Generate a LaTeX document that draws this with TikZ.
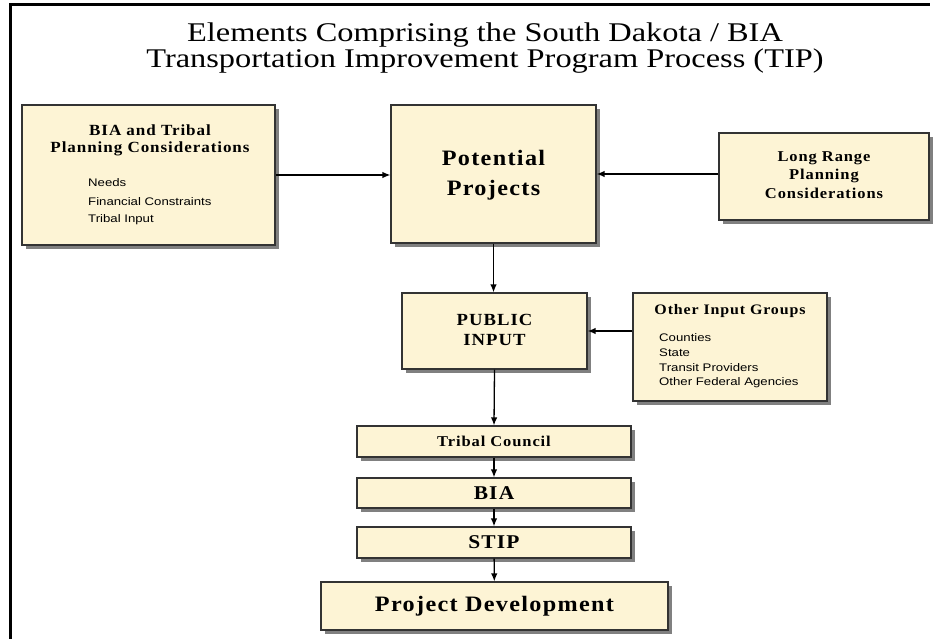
\documentclass[tikz,border=0pt]{standalone}
\usepackage{fontspec}
\setmainfont[FakeStretch=1.2]{Liberation Serif}
\setsansfont[FakeStretch=1.2]{Liberation Sans}
\newfontfamily\hdfont[FakeStretch=1.1, LetterSpace=6]{Liberation Serif}
\usepackage{tikz}
\usetikzlibrary{calc,positioning,arrows.meta,shadows}
\definecolor{parch}{RGB}{253,244,213}

\begin{document}
\begin{tikzpicture}[x=1pt,y=-1pt,
  lbl/.style={font=\sffamily\fontsize{11}{12}\selectfont, anchor=west, inner sep=0pt},
  hd/.style 2 args={font=\hdfont\bfseries\fontsize{#1}{#2}\selectfont, align=center, inner sep=0pt}]
\tikzstyle{blk}=[draw=black!80, line width=1.2pt, fill=parch, inner sep=0pt,
  drop shadow={shadow xshift=4pt, shadow yshift=-4pt, fill=black!50, opacity=1}]
\tikzstyle{con}=[-{Latex[length=8pt,width=6.5pt]}, line width=1.3pt]
\useasboundingbox (0,0) rectangle (935,639);
\draw[line width=3pt] (10,640) -- (10,5) -- (930,5);
\node[font=\fontsize{27}{24}\selectfont, align=center] (title) at (485,48)
  {Elements Comprising the South Dakota / BIA\\Transportation Improvement Program Process (TIP)};
% upper row
\node[blk, minimum width=253pt, minimum height=140pt] (bia) at (148.5,175) {};
\node[blk, minimum width=205pt, minimum height=138pt] (pot) at (493.5,174) {};
\node[blk, minimum width=210pt, minimum height=87pt] (lrp) at (824,176.5) {};
\node[hd={15.5}{17.5}] (biaT) at (150,140.5) {BIA and Tribal\\Planning Considerations};
\node[lbl] (n1) at (88,183) {Needs};
\node[lbl] (n2) at (88,202) {Financial Constraints};
\node[lbl] (n3) at (88,220) {Tribal Input};
\node[hd={22}{30}] (potT) at (493.5,175.5) {Potential\\Projects};
\node[hd={15}{18.5}] (lrpT) at (824,175) {Long Range\\Planning\\Considerations};
% middle row
\node[blk, minimum width=185pt, minimum height=76pt] (pub) at (494.5,331) {};
\node[blk, minimum width=194pt, minimum height=108pt] (oig) at (730,347) {};
\node[hd={17}{20}] (pubT) at (494.5,329.5) {PUBLIC\\INPUT};
\node[hd={14.5}{18}] (oigT) at (730,311) {Other Input Groups};
\foreach \t [count=\k] in {Counties,State,Transit Providers,Other Federal Agencies}
  \node[lbl] (g\k) at (659,323+15*\k) {\t};
% approval chain
\node[blk, minimum width=274pt, minimum height=31pt, hd={15}{17}] (tc) at (494,441.5) {Tribal Council};
\node[blk, minimum width=274pt, minimum height=30pt, hd={19.5}{21}] (bia2) at (494,493) {BIA};
\node[blk, minimum width=274pt, minimum height=31pt, hd={19.5}{21}] (stip) at (494,542.5) {STIP};
\node[blk, minimum width=347pt, minimum height=48pt, hd={22}{24}] (pd) at (494.5,606) {Project Development};
% connectors
\draw[con] (bia.east) -- (bia.east -| pot.west);
\draw[con] (lrp.west |- pot.east) -- (pot.east);
\draw[con] (pot.south) -- (pot.south |- pub.north);
\draw[con] (oig.west |- pub.east) -- (pub.east);
\draw[con] (pub.south) -- (tc.north);
\draw[con] (tc) -- (bia2);
\draw[con] (bia2) -- (stip);
\draw[con] (stip) -- (pd);
\end{tikzpicture}
\end{document}
